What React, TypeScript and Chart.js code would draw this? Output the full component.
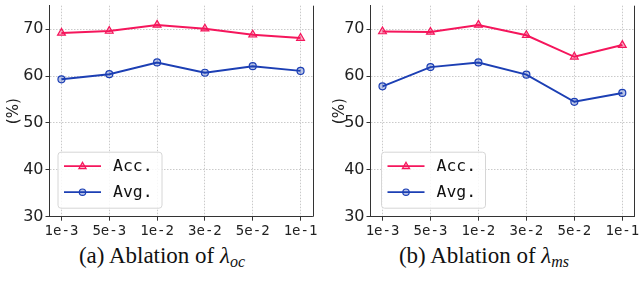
import React, { useEffect, useRef } from 'react';
import { Chart, registerables } from 'chart.js';

Chart.register(...registerables);

const categories = ['1e-3', '5e-3', '1e-2', '3e-2', '5e-2', '1e-1'];
const yTickValues = [30, 40, 50, 60, 70];
const seriesNames = ['Acc.', 'Avg.'];
const accOc = [69.2, 69.6, 70.9, 70.1, 68.8, 68.1];
const avgOc = [59.3, 60.4, 62.9, 60.7, 62.1, 61.1];
const accMs = [69.5, 69.4, 70.9, 68.7, 64.1, 66.6];
const avgMs = [57.8, 61.9, 62.9, 60.3, 54.5, 56.4];

const ACC = '#f5165c';
const ACC_FILL = 'rgba(245,22,92,0.35)';
const AVG = '#1c3fb4';
const AVG_FILL = 'rgba(28,63,180,0.3)';
const AXIS = '#333333';

function drawMarker(ctx: CanvasRenderingContext2D, style: string, x: number, y: number, r: number, stroke: string, fill: string) {
  ctx.save();
  ctx.beginPath();
  if (style === 'triangle') {
    ctx.moveTo(x, y - r);
    ctx.lineTo(x + r * 0.9, y + r * 0.6);
    ctx.lineTo(x - r * 0.9, y + r * 0.6);
    ctx.closePath();
  } else {
    ctx.arc(x, y, r, 0, Math.PI * 2);
  }
  ctx.fillStyle = fill;
  ctx.fill();
  ctx.strokeStyle = stroke;
  ctx.lineWidth = 1.2;
  ctx.stroke();
  ctx.restore();
}

function Panel(props: { acc: number[]; avg: number[]; areaLeft: number; padRight: number; legendX: number; titleX: number }) {
  const ref = useRef<HTMLCanvasElement>(null);
  useEffect(() => {
    const { acc, avg, areaLeft, padRight, legendX, titleX } = props;
    const mk = (vals: number[]) => vals.map((y, i) => ({ x: i, y }));
    const frame = {
      id: 'frame',
      afterDraw(chart: any) {
        const { ctx, chartArea } = chart;
        ctx.save();
        ctx.strokeStyle = AXIS;
        ctx.lineWidth = 1;
        ctx.beginPath();
        ctx.moveTo(Math.round(chartArea.right) + 0.5, chartArea.top);
        ctx.lineTo(Math.round(chartArea.right) + 0.5, chartArea.bottom);
        ctx.stroke();
        ctx.translate(titleX, (chartArea.top + chartArea.bottom) / 2);
        ctx.rotate(-Math.PI / 2);
        ctx.font = '15px "DejaVu Sans"';
        ctx.fillStyle = '#222';
        ctx.textAlign = 'center';
        ctx.textBaseline = 'middle';
        ctx.fillText('(%)', 0, 0);
        ctx.restore();
      },
    };
    const legend = {
      id: 'customLegend',
      afterDatasetsDraw(chart: any) {
        const { ctx, chartArea } = chart;
        const w = 104, h = 56;
        const x0 = legendX, y0 = chartArea.bottom - 8.5 - h;
        ctx.save();
        ctx.beginPath();
        const r = 3;
        ctx.moveTo(x0 + r, y0);
        ctx.arcTo(x0 + w, y0, x0 + w, y0 + h, r);
        ctx.arcTo(x0 + w, y0 + h, x0, y0 + h, r);
        ctx.arcTo(x0, y0 + h, x0, y0, r);
        ctx.arcTo(x0, y0, x0 + w, y0, r);
        ctx.closePath();
        ctx.fillStyle = 'rgba(255,255,255,0.85)';
        ctx.fill();
        ctx.strokeStyle = '#d6d6d6';
        ctx.lineWidth = 1;
        ctx.stroke();
        chart.data.datasets.forEach((ds: any, i: number) => {
          const yy = y0 + 14 + i * 26;
          ctx.strokeStyle = ds.borderColor;
          ctx.lineWidth = 1.8;
          ctx.beginPath();
          ctx.moveTo(x0 + 6, yy);
          ctx.lineTo(x0 + 43, yy);
          ctx.stroke();
          drawMarker(ctx, ds.pointStyle, x0 + 24.5, yy, ds.pointStyle === 'triangle' ? 4 : 3.2, ds.borderColor, ds.pointBackgroundColor);
          ctx.fillStyle = '#111';
          ctx.font = '16.5px "DejaVu Sans Mono"';
          ctx.textAlign = 'left';
          ctx.textBaseline = 'middle';
          ctx.fillText(ds.label, x0 + 55, yy + 1);
        });
        ctx.restore();
      },
    };
    const chart = new Chart(ref.current!, {
      type: 'line',
      data: {
        datasets: [
          {
            label: seriesNames[0], data: mk(acc), borderColor: ACC, backgroundColor: ACC_FILL,
            pointStyle: 'triangle', pointRadius: 4.5, pointBorderWidth: 1.2, borderWidth: 2,
            pointBackgroundColor: ACC_FILL, pointBorderColor: ACC,
          },
          {
            label: seriesNames[1], data: mk(avg), borderColor: AVG, backgroundColor: AVG_FILL,
            pointStyle: 'circle', pointRadius: 3.5, pointBorderWidth: 1.2, borderWidth: 2,
            pointBackgroundColor: AVG_FILL, pointBorderColor: AVG,
          },
        ],
      },
      options: {
        animation: false,
        responsive: false,
        layout: { padding: { left: 0, right: padRight, top: 0, bottom: 0 } },
        plugins: { legend: { display: false }, tooltip: { enabled: false } },
        scales: {
          x: {
            type: 'linear', min: -0.25, max: 5.25,
            afterBuildTicks: (s: any) => { s.ticks = categories.map((_, i) => ({ value: i })); },
            afterFit: (s: any) => { s.height = 23.3; s.paddingLeft = 0; s.paddingRight = 0; },
            ticks: {
              callback: (v: any) => categories[v] ?? '',
              font: { family: '"DejaVu Sans Mono"', size: 14 }, color: '#222', padding: 2,
              maxRotation: 0, autoSkip: false,
            },
            grid: { color: '#bdbdbd', lineWidth: 0.8, tickColor: AXIS, tickLength: 4, tickWidth: 1, tickBorderDash: [] },
            border: { color: AXIS, width: 1, dash: [1.5, 1.5] },
          },
          y: {
            type: 'linear', min: 30, max: 75,
            afterBuildTicks: (s: any) => { s.ticks = yTickValues.map((v) => ({ value: v })); },
            afterFit: (s: any) => { s.width = areaLeft; s.paddingTop = 0; s.paddingBottom = 0; },
            ticks: { font: { family: '"DejaVu Sans"', size: 16 }, color: '#222', padding: 2 },
            grid: { color: '#bdbdbd', lineWidth: 0.8, tickColor: AXIS, tickLength: 4, tickWidth: 1, tickBorderDash: [] },
            border: { color: AXIS, width: 1, dash: [1.5, 1.5] },
          },
        },
      },
      plugins: [frame, legend],
    } as any);
    return () => chart.destroy();
  }, []);
  return <canvas ref={ref} width={320} height={240} style={{ display: 'block' }} />;
}

function Caption(props: { label: string; sub: string; center: number }) {
  return (
    <div
      style={{
        position: 'absolute', top: 244, left: props.center - 160, width: 320, textAlign: 'center',
        fontFamily: '"Liberation Serif", serif', fontSize: 23, lineHeight: '24px', color: '#111',
        whiteSpace: 'nowrap',
      }}
    >
      {props.label} <span style={{ fontStyle: 'italic' }}>λ</span>
      <sub style={{ fontStyle: 'italic', fontSize: 16, verticalAlign: '-4px', lineHeight: 0 }}>{props.sub}</sub>
    </div>
  );
}

export default function App() {
  return (
    <div style={{ position: 'fixed', left: 0, top: 0, width: 640, height: 299, background: '#fff', overflow: 'hidden' }}>
      <div style={{ position: 'absolute', left: 0, top: 0 }}>
        <Panel acc={accOc} avg={avgOc} areaLeft={49.5} padRight={7.5} legendX={58} titleX={14} />
      </div>
      <div style={{ position: 'absolute', left: 320, top: 0 }}>
        <Panel acc={accMs} avg={avgMs} areaLeft={50.5} padRight={4} legendX={61.5} titleX={20} />
      </div>
      <Caption label="(a) Ablation of" sub="oc" center={162} />
      <Caption label="(b) Ablation of" sub="ms" center={484} />
    </div>
  );
}
